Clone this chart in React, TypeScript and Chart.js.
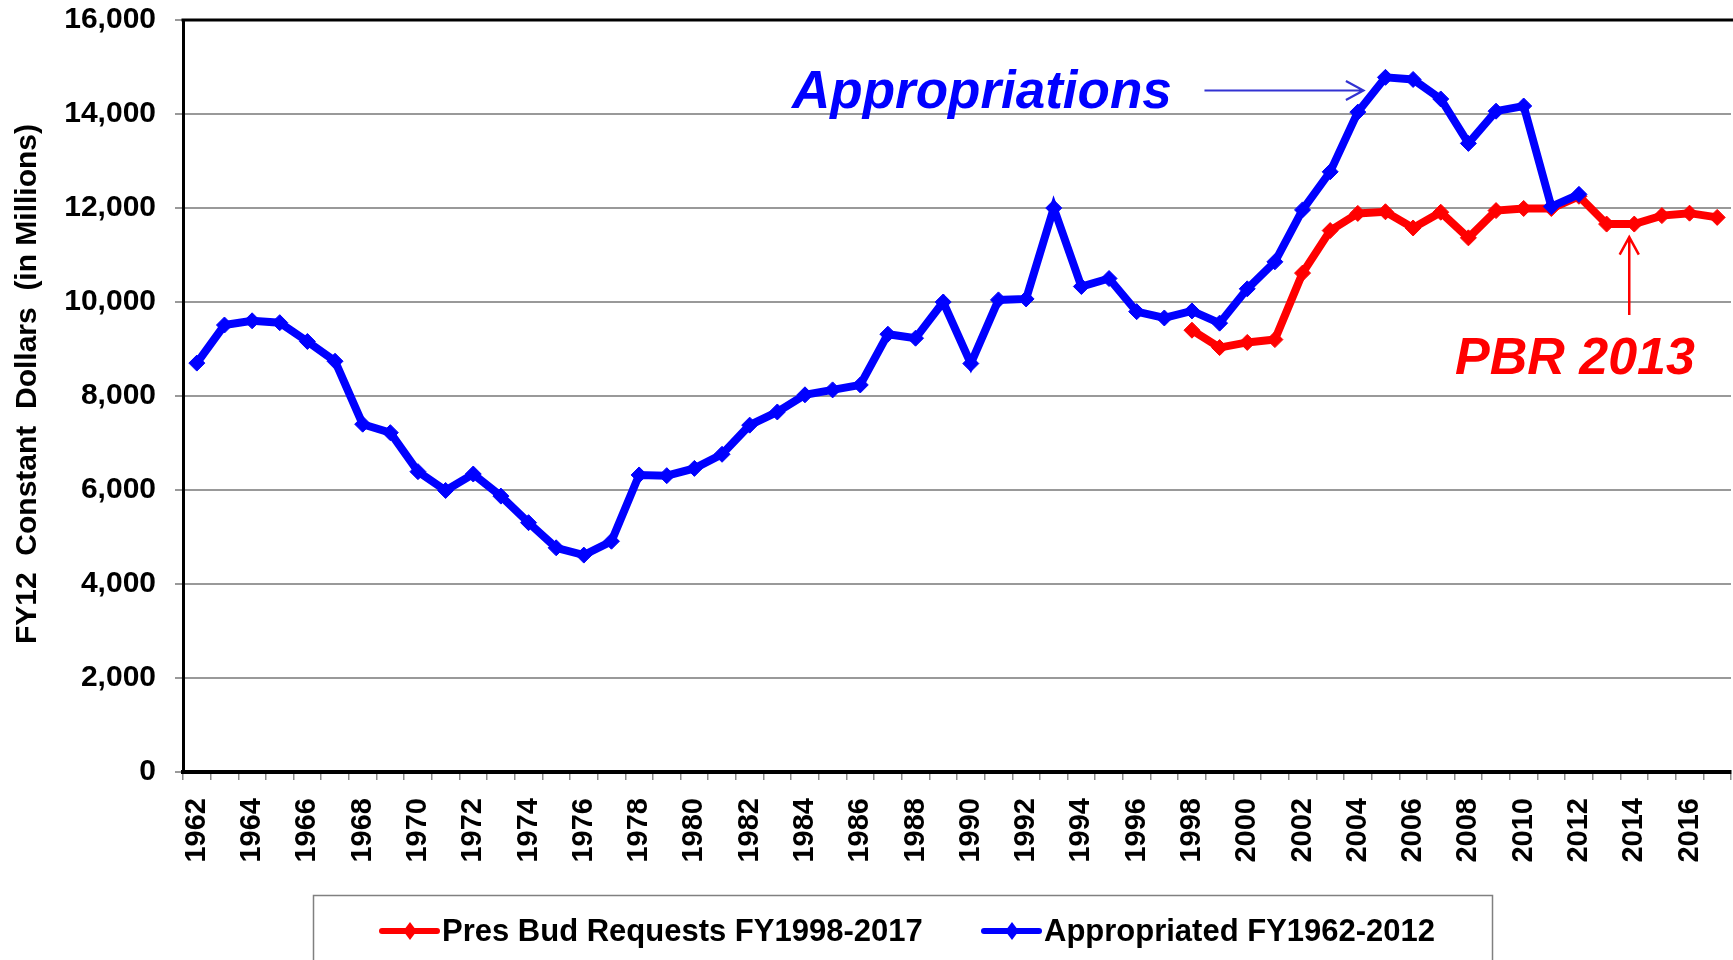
import React, { useEffect, useRef } from 'react';
import { Chart, registerables } from 'chart.js';

Chart.register(...registerables);

// ---------------- DATA ----------------
const years: string[] = [
  '1962', '1963', '1964', '1965', '1966', '1967', '1968', '1969', '1970', '1971',
  '1972', '1973', '1974', '1975', '1976', '1977', '1978', '1979', '1980', '1981',
  '1982', '1983', '1984', '1985', '1986', '1987', '1988', '1989', '1990', '1991',
  '1992', '1993', '1994', '1995', '1996', '1997', '1998', '1999', '2000', '2001',
  '2002', '2003', '2004', '2005', '2006', '2007', '2008', '2009', '2010', '2011',
  '2012', '2013', '2014', '2015', '2016', '2017',
];

// Appropriated FY1962-2012 (FY12 constant $M)
const appropriated: number[] = [
  8700, 9510, 9600, 9560, 9160, 8740, 7400, 7220, 6390, 5990,
  6340, 5870, 5305, 4770, 4615, 4910, 6320, 6305, 6460, 6760,
  7380, 7660, 8025, 8130, 8235, 9315, 9230, 10000, 8690, 10045,
  10065, 12000, 10330, 10500, 9795, 9660, 9810, 9550, 10280, 10855,
  11960, 12770, 14040, 14780, 14735, 14320, 13375, 14060, 14170, 12030,
  12290,
];

// Pres Bud Requests FY1998-2017
const presBudStartYear = '1998';
const presBud: number[] = [
  9400, 9030, 9140, 9200, 10615, 11520, 11885, 11920, 11575, 11910,
  11365, 11945, 11990, 11990, 12250, 11658, 11658, 11838, 11890, 11800,
];

const yTicksMin = 0;
const yTicksMax = 16000;
const yTickStep = 2000;

const seriesLabels = ['Pres Bud Requests FY1998-2017', 'Appropriated FY1962-2012'];
const yTitle = 'FY12  Constant  Dollars  (in Millions)';
const annoBlue = 'Appropriations';
const annoRed = 'PBR 2013';
const annoBlueYear = '2005';
const annoRedYear = '2014';

const RED = '#ff0000';
const BLUE = '#0000ff';
const FONT = "'Liberation Sans', Arial, Helvetica, sans-serif";

function drawArrow(ctx: CanvasRenderingContext2D, x1: number, y1: number, x2: number, y2: number, color: string, lw: number) {
  const ang = Math.atan2(y2 - y1, x2 - x1);
  const head = 20;
  const spread = 0.5;
  ctx.save();
  ctx.strokeStyle = color;
  ctx.lineWidth = lw;
  ctx.lineCap = 'butt';
  ctx.beginPath();
  ctx.moveTo(x1, y1);
  ctx.lineTo(x2, y2);
  ctx.moveTo(x2 - head * Math.cos(ang - spread), y2 - head * Math.sin(ang - spread));
  ctx.lineTo(x2, y2);
  ctx.lineTo(x2 - head * Math.cos(ang + spread), y2 - head * Math.sin(ang + spread));
  ctx.stroke();
  ctx.restore();
}

function legendItem(ctx: CanvasRenderingContext2D, x: number, y: number, color: string, text: string) {
  ctx.save();
  ctx.strokeStyle = color;
  ctx.fillStyle = color;
  ctx.lineWidth = 6;
  ctx.lineCap = 'round';
  ctx.beginPath();
  ctx.moveTo(x, y);
  ctx.lineTo(x + 55, y);
  ctx.stroke();
  const cx = x + 28;
  const r = 9;
  ctx.beginPath();
  ctx.moveTo(cx, y - r);
  ctx.lineTo(cx + r * 0.75, y);
  ctx.lineTo(cx, y + r);
  ctx.lineTo(cx - r * 0.75, y);
  ctx.closePath();
  ctx.fill();
  ctx.fillStyle = '#000';
  ctx.font = `bold 31px ${FONT}`;
  ctx.textAlign = 'left';
  ctx.textBaseline = 'middle';
  ctx.fillText(text, x + 60, y + 1);
  ctx.restore();
}

const overlayPlugin = {
  id: 'overlay',
  afterDraw(chart: any) {
    const { ctx, chartArea, scales } = chart;
    const xs = scales.x;
    const ys = scales.y;
    ctx.save();
    // top frame line
    ctx.strokeStyle = '#000';
    ctx.lineWidth = 3;
    ctx.beginPath();
    ctx.moveTo(chartArea.left - 1.5, chartArea.top);
    ctx.lineTo(chartArea.right + 5, chartArea.top);
    ctx.stroke();

    // y-axis title
    ctx.save();
    ctx.translate(28, 384);
    ctx.rotate(-Math.PI / 2);
    ctx.font = `bold 30px ${FONT}`;
    ctx.fillStyle = '#000';
    ctx.textAlign = 'center';
    ctx.textBaseline = 'middle';
    ctx.fillText(yTitle, 0, 0);
    ctx.restore();

    // annotations
    ctx.font = `italic bold 53px ${FONT}`;
    ctx.fillStyle = BLUE;
    ctx.textAlign = 'left';
    ctx.textBaseline = 'alphabetic';
    ctx.fillText(annoBlue, 792, 108);

    const bi = years.indexOf(annoBlueYear);
    const bx = xs.getPixelForValue(bi) - 22;
    const by = ys.getPixelForValue(14500);
    drawArrow(ctx, bx - 159, by, bx, by, '#3232d2', 2.2);

    ctx.font = `italic bold 52px ${FONT}`;
    ctx.fillStyle = RED;
    ctx.fillText(annoRed, 1455, 374);

    const ri = years.indexOf(annoRedYear);
    const rv = presBud[ri - years.indexOf(presBudStartYear)];
    const rx = xs.getPixelForValue(ri) - 5;
    const ry = ys.getPixelForValue(rv) + 13;
    drawArrow(ctx, rx, ry + 78, rx, ry, RED, 2.5);

    // legend box
    ctx.strokeStyle = '#808080';
    ctx.lineWidth = 1.5;
    ctx.strokeRect(313.5, 895.5, 1179, 120);
    legendItem(ctx, 382, 931, RED, seriesLabels[0]);
    legendItem(ctx, 984, 931, BLUE, seriesLabels[1]);
    ctx.restore();
  },
};

export default function App() {
  const ref = useRef<HTMLCanvasElement | null>(null);

  useEffect(() => {
    if (!ref.current) return;
    const startIdx = years.indexOf(presBudStartYear);
    const blueData = years.map((_, i) => (i < appropriated.length ? appropriated[i] : null));
    const redData = years.map((_, i) => (i >= startIdx ? presBud[i - startIdx] : null));

    const chart = new Chart(ref.current, {
      type: 'line',
      data: {
        labels: years,
        datasets: [
          {
            label: seriesLabels[0],
            data: redData,
            borderColor: RED,
            backgroundColor: RED,
            borderWidth: 8,
            pointStyle: 'rectRot',
            pointRadius: 8,
            pointBorderWidth: 1,
            pointBackgroundColor: RED,
            pointBorderColor: RED,
            tension: 0,
            order: 1,
          },
          {
            label: seriesLabels[1],
            data: blueData,
            borderColor: BLUE,
            backgroundColor: BLUE,
            borderWidth: 8,
            pointStyle: 'rectRot',
            pointRadius: 8,
            pointBorderWidth: 1,
            pointBackgroundColor: BLUE,
            pointBorderColor: BLUE,
            tension: 0,
            order: 0,
          },
        ],
      },
      options: {
        responsive: false,
        animation: false,
        devicePixelRatio: 1,
        layout: { padding: { top: 20, left: 0, right: 0, bottom: 0 } },
        plugins: {
          legend: { display: false },
          tooltip: { enabled: false },
          title: { display: false },
        },
        scales: {
          x: {
            type: 'category',
            offset: true,
            grid: {
              display: true,
              drawOnChartArea: false,
              drawTicks: true,
              tickLength: 8,
              color: '#8a8a8a',
              lineWidth: 1.5,
              offset: true,
            },
            border: { display: true, color: '#000', width: 4 },
            ticks: {
              autoSkip: false,
              maxRotation: 90,
              minRotation: 90,
              padding: 18,
              color: '#000',
              font: { family: FONT, size: 29, weight: 'bold' },
              callback: (_v: any, idx: number) => (idx % 2 === 0 ? years[idx] : ''),
            },
            afterFit: (s: any) => {
              s.height = 188;
              s.paddingLeft = 0;
              s.paddingRight = 0;
            },
          },
          y: {
            min: yTicksMin,
            max: yTicksMax,
            grid: {
              color: '#999999',
              lineWidth: 2,
              drawTicks: true,
              tickLength: 8,
            },
            border: { display: true, color: '#000', width: 3 },
            ticks: {
              stepSize: yTickStep,
              padding: 19,
              color: '#000',
              font: { family: FONT, size: 30, weight: 'bold' },
              callback: (v: any) => Number(v).toLocaleString('en-US'),
            },
            afterFit: (s: any) => {
              s.width = 183;
              s.paddingTop = 0;
              s.paddingBottom = 0;
            },
          },
        },
      },
      plugins: [overlayPlugin],
    } as any);

    return () => chart.destroy();
  }, []);

  return (
    <div
      style={{
        position: 'fixed',
        left: 0,
        top: 0,
        width: 1733,
        height: 960,
        overflow: 'hidden',
        background: '#fff',
      }}
    >
      <canvas ref={ref} width={1740} height={960} style={{ display: 'block', width: 1740, height: 960 }} />
    </div>
  );
}
